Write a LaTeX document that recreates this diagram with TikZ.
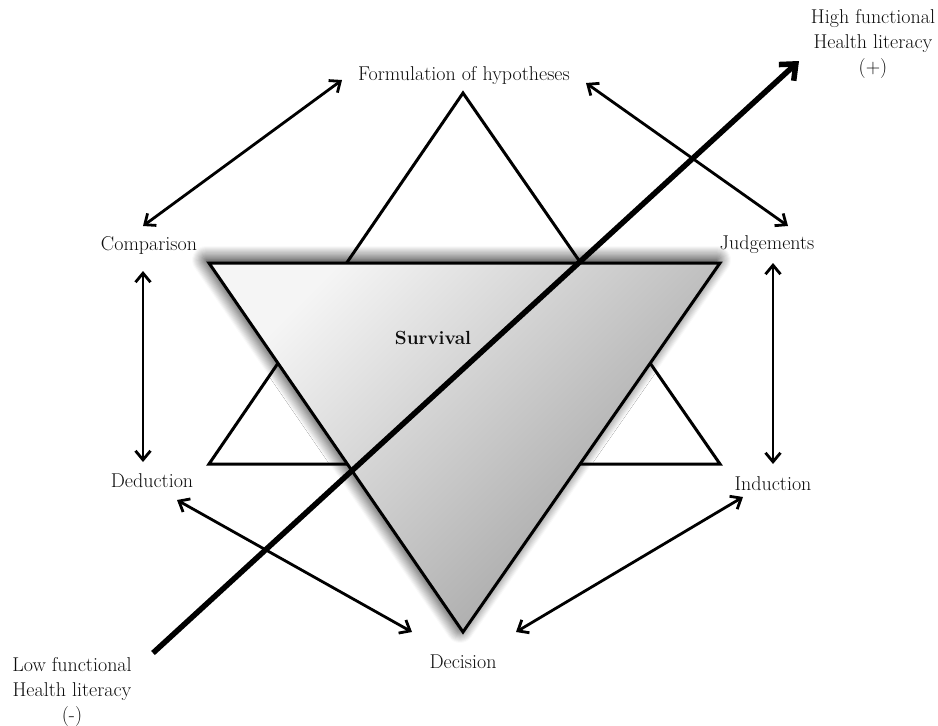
\documentclass[tikz,border=0pt]{standalone}
\usetikzlibrary{arrows.meta,shadows.blur}
\begin{document}
\begin{tikzpicture}[x=1pt,y=-1pt,
  lbl/.style={font=\fontsize{20}{25}\selectfont, text=black!95, inner sep=1pt, align=center},
  dbl/.style={line width=2.8pt, {Straight Barb[length=9pt,width=15pt]}-{Straight Barb[length=9pt,width=15pt]}},
  tri/.style={line width=3pt, line join=miter},
  bigarrow/.style={line width=5.5pt, -{Straight Barb[length=13pt,width=22pt]}}]
\useasboundingbox (0,0) rectangle (938,726);
% upward triangle
\draw[tri, fill=white] (463,93) -- (209,464) -- (720,464) -- cycle;
% downward triangle, shaded
\shade[top color=black!4, bottom color=black!38, shading angle=45,
  blur shadow={shadow xshift=-3pt, shadow yshift=3pt, shadow blur radius=14pt, shadow blur steps=14, shadow opacity=100}]
  (209,263) -- (720,263) -- (463,632) -- cycle;
\draw[tri] (209,263) -- (720,263) -- (463,632) -- cycle;
% labels
\node[lbl] (form) at (464,76) {Formulation of hypotheses};
\node[lbl] (comp) at (149,245) {Comparison};
\node[lbl] (judg) at (767,245) {Judgements};
\node[lbl] (dedu) at (152,481) {Deduction};
\node[lbl] (indu) at (773,484) {Induction};
\node[lbl] (deci) at (463,662) {Decision};
\node[lbl, font=\fontsize{19}{24}\selectfont\bfseries] (surv) at (433,338) {Survival};
\node[lbl] (high) at (873,44) {High functional\\Health literacy\\(+)};
\node[lbl] (low) at (72,692) {Low functional\\Health literacy\\(-)};
% arrow end points
\coordinate (a1) at (143,226); \coordinate (a2) at (342,80);
\coordinate (b1) at (586,83);  \coordinate (b2) at (788,226);
\coordinate (c1) at (143,271); \coordinate (c2) at (143,462);
\coordinate (d1) at (773,263); \coordinate (d2) at (773,464);
\coordinate (e1) at (177,500); \coordinate (e2) at (412,632);
\coordinate (f1) at (743,497); \coordinate (f2) at (516,632);
\draw[dbl] (a1) -- (a2);
\draw[dbl] (b1) -- (b2);
\draw[dbl] (c1) -- (c2);
\draw[dbl] (d1) -- (d2);
\draw[dbl] (e1) -- (e2);
\draw[dbl] (f1) -- (f2);
% diagonal literacy arrow
\coordinate (g1) at (153,653); \coordinate (g2) at (799,61);
\draw[bigarrow] (g1) -- (g2);
\end{tikzpicture}
\end{document}
